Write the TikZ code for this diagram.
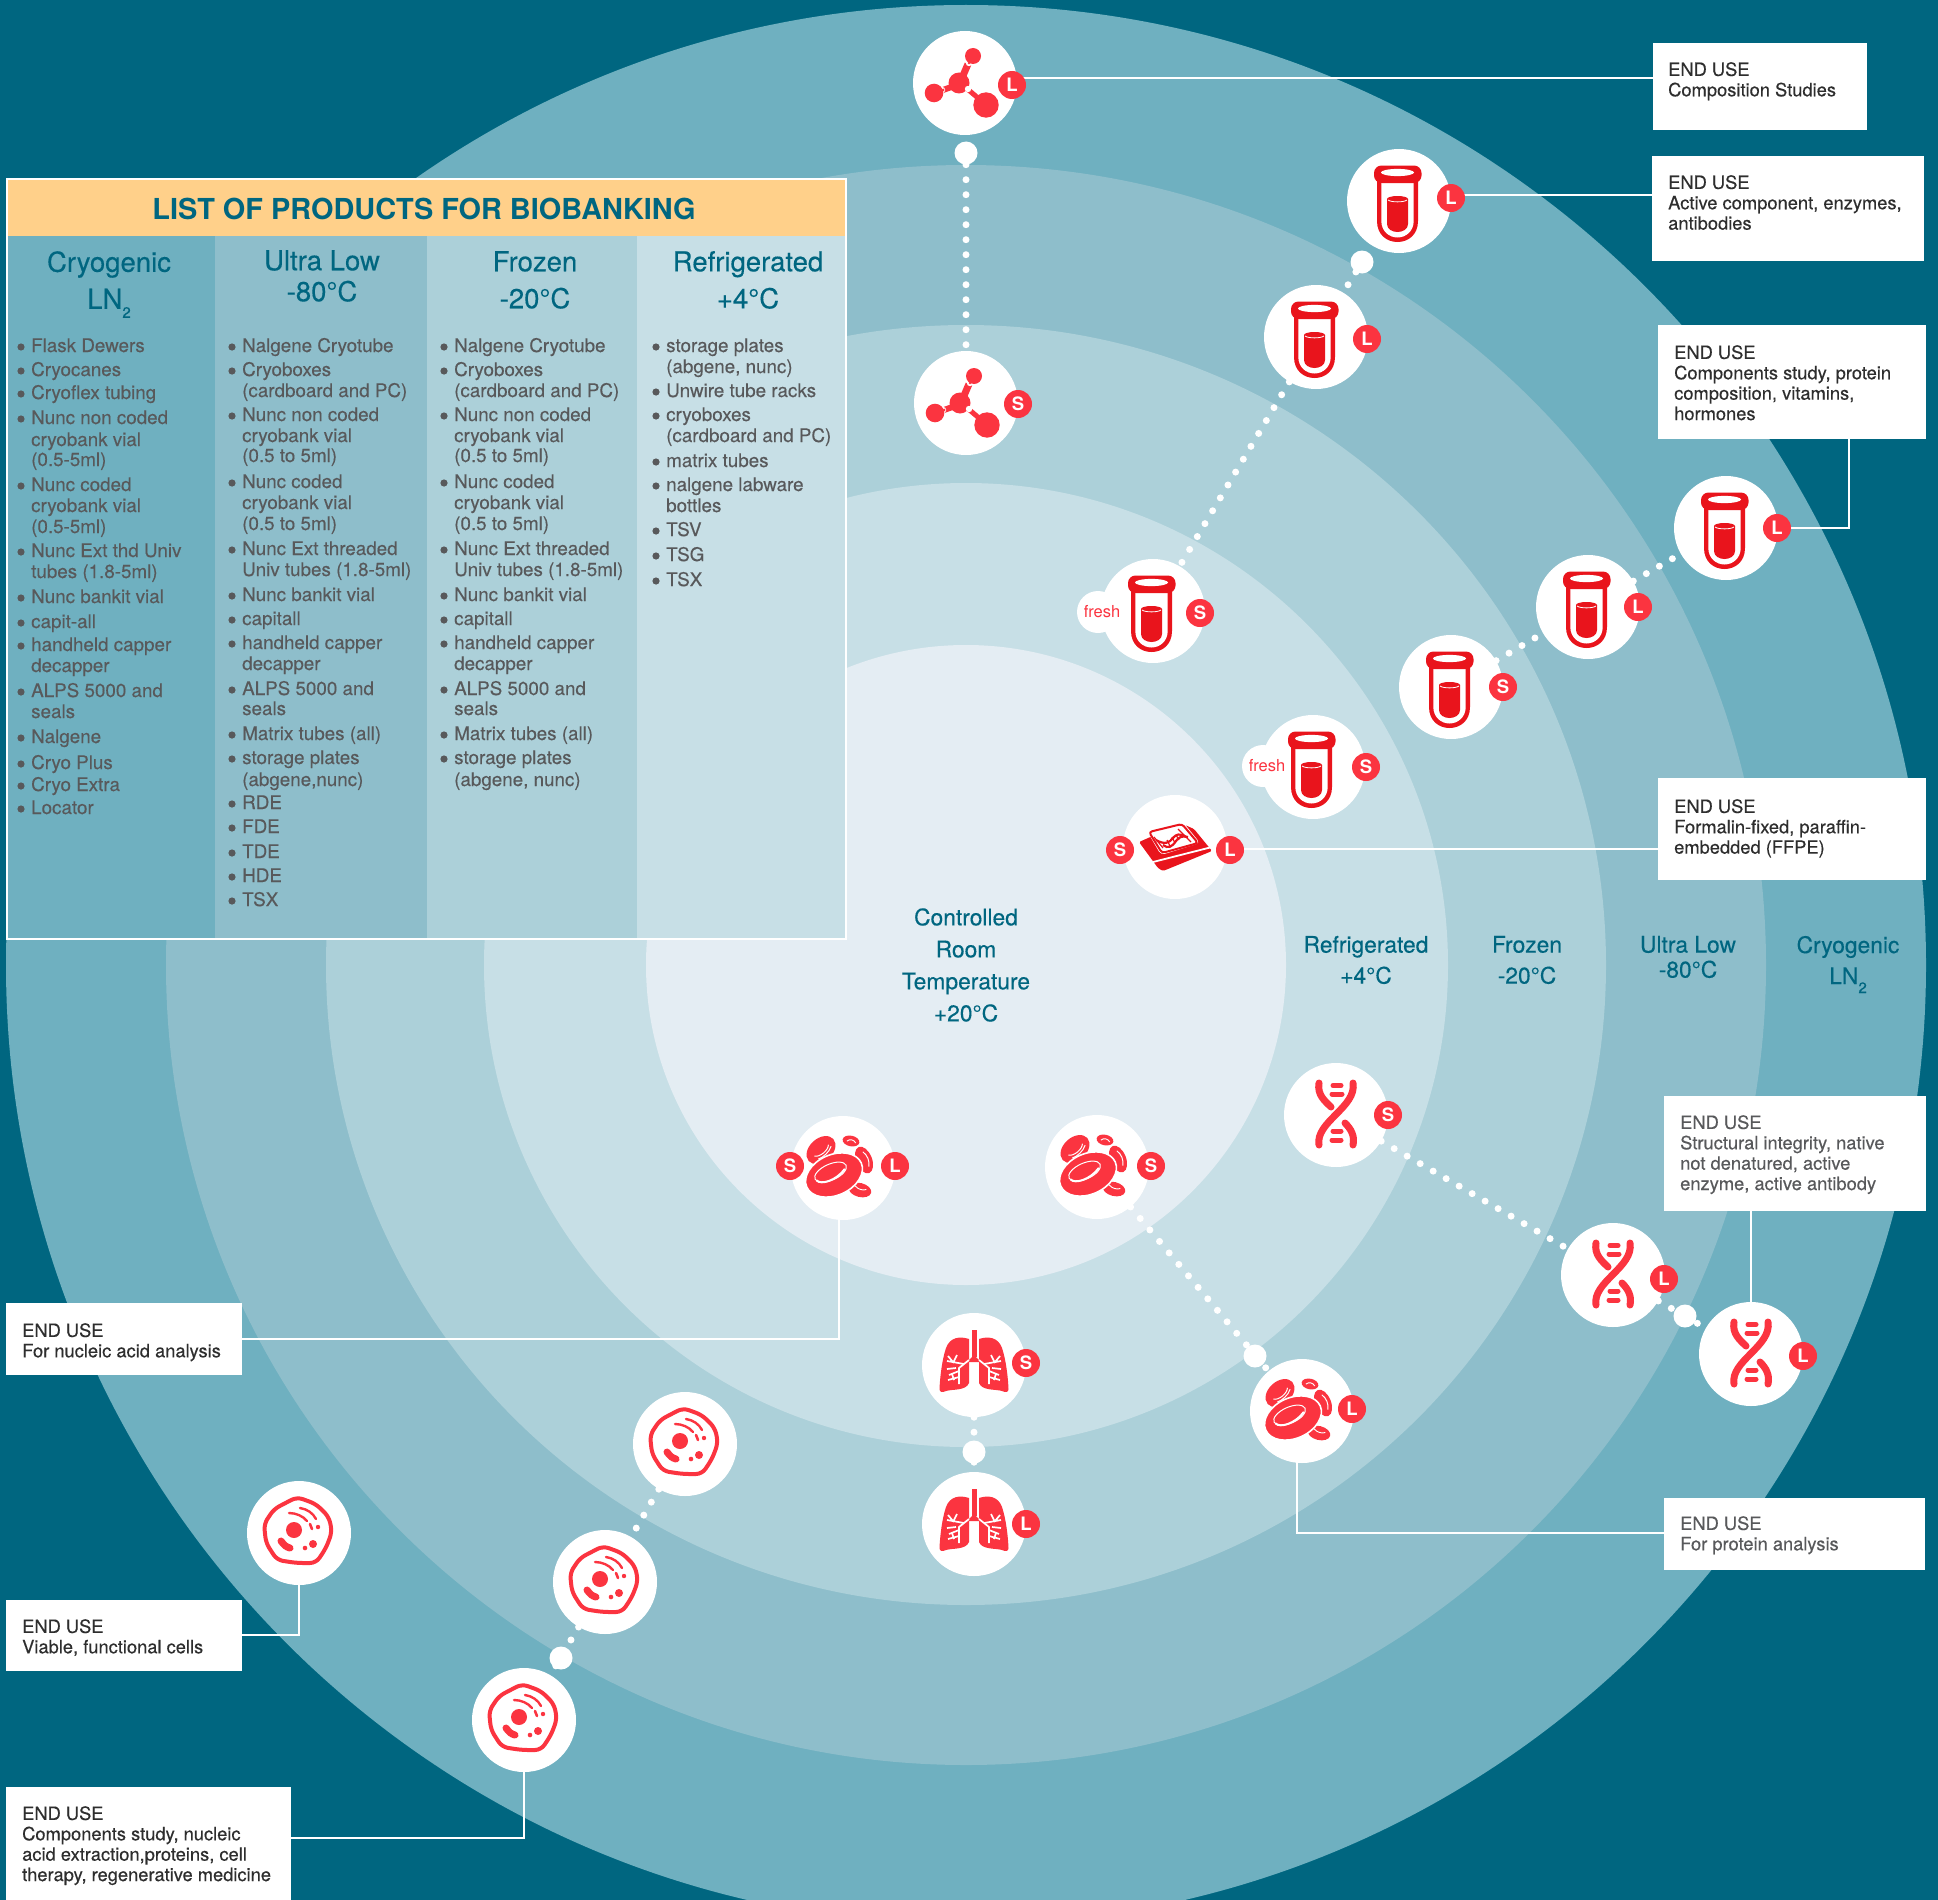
\documentclass[tikz,border=0pt]{standalone}
\usepackage{fontspec}
\setmainfont{TeX Gyre Heros}
\newfontfamily\medf[FakeBold=0.3]{TeX Gyre Heros}
\pgfdeclarelayer{back}
\pgfdeclarelayer{lines}
\pgfsetlayers{back,lines,main}
\definecolor{bgteal}{HTML}{006680}
\definecolor{ringa}{HTML}{6FB0C0}
\definecolor{ringb}{HTML}{8EBECB}
\definecolor{ringc}{HTML}{ACD0D9}
\definecolor{ringd}{HTML}{C7DFE6}
\definecolor{ringe}{HTML}{E4EDF3}
\definecolor{hdr}{HTML}{FFD08A}
\definecolor{hot}{HTML}{FB3440}
\definecolor{deep}{HTML}{E9141C}
\definecolor{txt}{HTML}{58595B}
\definecolor{inktxt}{HTML}{2E2E2E}
\newcommand{\fs}[2]{\fontsize{#1pt}{#2pt}\selectfont}
\newcommand{\lowtwo}{\raisebox{-9pt}[0pt][0pt]{\fs{15}{15}2}}
\tikzset{
  x=1pt,y=-1pt,
  disc/.style={circle,fill=white,draw=none,minimum size=104pt,inner sep=0pt},
  blob/.style={circle,fill=white,draw=none,minimum size=42pt,inner sep=0pt},
  fresht/.style={text=hot,font=\fs{16.5}{17},inner sep=0pt},
  knob/.style={circle,fill=white,draw=none,minimum size=23pt,inner sep=0pt},
  badge/.style={circle,fill=hot,draw=none,minimum size=28pt,inner sep=0pt,text=white,font=\bfseries\fs{18.5}{18}},
  conn/.style={draw=white,line width=2.6pt},
  pearls/.style={draw=white,line width=7pt,line cap=round,dash pattern=on 0pt off 15pt},
  boxw/.style={rectangle,fill=white,draw=none,inner sep=0pt,anchor=north west},
  boxt/.style={anchor=north west,inner sep=0pt,align=left,font=\medf\fs{18.3}{20.4},text=#1},
  boxt/.default=inktxt,
  ltext/.style={anchor=west,inner sep=0pt,text=txt,font=\medf\fs{18.8}{20},text height=14pt,text depth=4pt},
  bandl/.style={text=bgteal,font=\medf\fs{22.8}{31},align=center,inner sep=0pt,anchor=center},
  tabh/.style={bandl,font=\medf\fs{27.5}{31}},
  tubeicon/.pic={
    \fill[deep] (-22,-20) -- (-22,20) .. controls (-22,34) and (-12,41) .. (-1.5,41) .. controls (9,41) and (19,34) .. (19,20) -- (19,-20) -- cycle;
    \fill[white] (-17.7,-20) -- (-17.7,20) .. controls (-17.7,30) and (-10,36.5) .. (-1.5,36.5) .. controls (7,36.5) and (14.7,30) .. (14.7,20) -- (14.7,-20) -- cycle;
    \fill[deep,rounded corners=7.5pt] (-25,-35.5) rectangle (22.5,-18);
    \fill[white] (-1.5,-28.5) ellipse (16.5 and 3.6);
    \fill[deep] (-12,-2) -- (-12,23) .. controls (-12,28) and (-7,31) .. (-1.5,31) .. controls (4,31) and (9,28) .. (9,23) -- (9,-2) -- cycle;
    \fill[deep] (-1.5,-2) ellipse (10.5 and 3);
    \draw[white,line width=0.8pt] (-11,-1) .. controls (-8,1.5) and (5,1.5) .. (8,-1);
  },
  molecule/.pic={
    \fill[hot] (-6,0) circle (10.5);
    \draw[hot,line width=7pt] (-3,-5) -- (3,-19);
    \draw[hot,line width=6pt] (-8,2) -- (-22,7);
    \draw[hot,line width=5pt] (0,4) -- (13,15);
    \fill[white] (4,-20) circle (3.2);
    \fill[white] (-23,7) circle (3.2);
    \fill[white] (3,6) circle (3.2);
    \fill[hot] (4,-20) circle (1.3);
    \fill[hot] (-22,7) circle (1.5);
    \fill[hot] (8,-27) circle (8);
    \fill[hot] (-31,10) circle (9.3);
    \fill[hot] (21,22) circle (12.7);
  },
  ffpe/.pic={
    \fill[deep,rounded corners=1.5pt] (-36,-5) -- (-17,21) -- (-12,24) -- (37,4) -- (19,-18) -- (10,-22) -- (-20,-12) -- cycle;
    \draw[white,line width=1.8pt] (-22,15) -- (37,0);
    \fill[white,rounded corners=4pt] (-28,-16) -- (8,-25) -- (25,-4) -- (-14,8) -- cycle;
    \draw[deep,line width=2pt,rounded corners=3pt] (-26,-15) -- (7,-23) -- (23,-4) -- (-13,6) -- cycle;
    \draw[deep,line width=1.2pt] (-21,-10) -- (-12,1);
    \draw[deep,line width=1.2pt] (3,-18) -- (16,-5);
    \draw[deep,line width=2.2pt] (-19,-7) .. controls (-10,-2) and (-6,-4) .. (-2,-9) .. controls (1,-13) and (5,-14) .. (11,-10);
    \draw[deep,line width=2.2pt] (-12,-2) .. controls (-7,2) and (-3,0) .. (1,-6) .. controls (3,-9) and (7,-12) .. (13,-10);
    \draw[deep,line width=1.2pt] (-8,-7) -- (-5,-1) (-3,-10) -- (0,-4) (1,-12) -- (4,-7);
  },
  bloodicon/.pic={
    \begin{scope}[shift={(-22,-18)},rotate=42]
      \fill[hot] (0,0) ellipse (16.5 and 11.5);
      \draw[white,line width=1pt] (-9,0) .. controls (-6,5) and (6,5) .. (9,1);
      \draw[white,line width=1pt] (-8,5) .. controls (-3,7) and (5,7) .. (10,4);
    \end{scope}
    \begin{scope}[shift={(8,-27)},rotate=-12]
      \fill[hot] (0,0) ellipse (8.5 and 5.3);
      \draw[white,line width=0.9pt] (-4,1) .. controls (-2,-2) and (3,-2) .. (5,1);
    \end{scope}
    \begin{scope}[shift={(21,-8)},rotate=22]
      \fill[hot] (0,0) ellipse (8 and 14);
      \draw[white,line width=1pt] (2,-8) .. controls (5,-3) and (5,3) .. (2,8);
    \end{scope}
    \begin{scope}[shift={(17,22)},rotate=-14]
      \fill[hot] (0,0) ellipse (11.5 and 7);
      \draw[white,line width=0.9pt] (-6,-3) .. controls (-2,0) and (3,0) .. (6,-2);
    \end{scope}
    \begin{scope}[shift={(-9,7)},rotate=24]
      \filldraw[fill=hot,draw=white,line width=1.6pt] (0,0) ellipse (29.8 and 20.3);
      \draw[white,line width=1pt] (-2,-4) ellipse (17 and 8);
      \draw[white,line width=2pt,line cap=round] (-18,-2) .. controls (-16,4) and (0,6) .. (12,-1);
    \end{scope}
  },
  cellicon/.pic={
    \draw[hot,line width=4pt,rounded corners=6pt,line join=round] (-2,-36) -- (17,-29) -- (30,-16) -- (33,-1) -- (27,15) -- (17,30) -- (-2,30) -- (-22,27) -- (-33,10) -- (-35,-9) -- (-25,-24) -- cycle;
    \fill[hot] (-5,-3) circle (8);
    \draw[hot,line width=7pt,line cap=round] (-18,8) .. controls (-15,12) and (-13,14) .. (-9,15);
    \fill[hot] (14,11) circle (4);
    \fill[hot] (6,15) circle (2.3);
    \fill[hot] (19,-6) circle (2.2);
    \draw[hot,line width=2.6pt,line cap=round] (11,-9) -- (13,-4);
    \draw[hot,line width=2.4pt,line cap=round] (-10,-20) .. controls (-3,-20) and (4,-17) .. (8,-12);
    \draw[hot,line width=2.4pt,line cap=round] (1,-25) .. controls (8,-24) and (14,-20) .. (17,-14);
  },
  dnaicon/.pic={
    \draw[hot,line width=7pt,line cap=round] (17,-32) .. controls (21,-8) and (-21,7) .. (-17,30);
    \draw[hot,line width=7pt,line cap=round] (-17,-32) .. controls (-19,-20) and (-11,-14) .. (-5,-8);
    \draw[hot,line width=7pt,line cap=round] (9,8) .. controls (15,14) and (19,21) .. (17,30);
    \draw[hot,line width=5pt,line cap=round] (-3,-29.5) -- (5,-29.5) (-4,-21) -- (6,-21) (-3,16) -- (5,16) (-4,25) -- (5,25);
  },
  lungicon/.pic={
    \fill[hot] (-2.5,-35) rectangle (2.5,-8);
    \fill[hot] (0,-10) -- (7,-3) -- (-7,-3) -- cycle;
    \foreach \s in {1,-1}{
      \begin{scope}[xscale=\s]
        \fill[hot] (5,-26) .. controls (14,-29) and (24,-28) .. (28,-17) .. controls (32,-5) and (34,12) .. (34.5,24) .. controls (34.5,27) and (32,28) .. (28,26) .. controls (22,24) and (8,26) .. (5,18) -- (5,-26) -- cycle;
        \draw[white,line width=1.7pt] (5,-5) -- (15,3) -- (15,19);
        \draw[white,line width=1.7pt] (10,-1) -- (27,-4) (17,-10) -- (21,-2) (21,-3) -- (26,-9) (18,3) -- (27,4);
        \draw[white,line width=1.7pt] (15,12) -- (26,15) (15,6) -- (25,10) (22,9) -- (20,15);
      \end{scope}
    }
  }
}
\newcounter{liitem}
\newcommand{\itm}[3]{\stepcounter{liitem}\node[ltext] (li\theliitem) at (#1,#2+1) {#3};\fill[txt] (#1-10,#2+1) circle (3.6);}
\newcommand{\cnt}[3]{\stepcounter{liitem}\node[ltext] (li\theliitem) at (#1,#2+1) {#3};}
\begin{document}
\begin{tikzpicture}
\useasboundingbox (0,0) rectangle (1938,1900);
\begin{pgfonlayer}{back}
\fill[bgteal] (0,0) rectangle (1938,1900);
\begin{scope}
\clip (0,0) rectangle (1938,1900);
\fill[ringa] (966,965) circle (960);
\fill[ringb] (966,965) circle (800);
\fill[ringc] (966,965) circle (640);
\fill[ringd] (966,965) circle (482);
\fill[ringe] (966,965) circle (320);
\end{scope}
\end{pgfonlayer}

% table
\fill[white] (6,178) rectangle (847,940);
\fill[hdr] (8,180) rectangle (845,236);
\fill[ringa] (8,236) rectangle (215,938);
\fill[ringb] (215,236) rectangle (427,938);
\fill[ringc] (427,236) rectangle (637,938);
\fill[ringd] (637,236) rectangle (845,938);
\node[text=bgteal,font=\bfseries\fs{28.9}{30},inner sep=0pt] (ttl) at (424,209) {LIST OF PRODUCTS FOR BIOBANKING};
\node[tabh] (h1) at (109,280) {Cryogenic\\[6pt]LN\lowtwo};
\node[tabh] (h2) at (322,276) {Ultra Low\\-80°C};
\node[tabh] (h3) at (535,280) {Frozen\\[6pt]-20°C};
\node[tabh] (h4) at (748,280) {Refrigerated\\[6pt]+4°C};

\itm{31}{346}{Flask Dewers}
\itm{31}{370}{Cryocanes}
\itm{31}{393}{Cryoflex tubing}
\itm{31}{418}{Nunc non coded}
\cnt{31}{440}{cryobank vial}
\cnt{31}{460}{(0.5-5ml)}
\itm{31}{485}{Nunc coded}
\cnt{31}{506}{cryobank vial}
\cnt{31}{527}{(0.5-5ml)}
\itm{31}{551}{Nunc Ext thd Univ}
\cnt{31}{572}{tubes (1.8-5ml)}
\itm{31}{597}{Nunc bankit vial}
\itm{31}{622}{capit-all}
\itm{31}{645}{handheld capper}
\cnt{31}{666}{decapper}
\itm{31}{691}{ALPS 5000 and}
\cnt{31}{712}{seals}
\itm{31}{737}{Nalgene}
\itm{31}{763}{Cryo Plus}
\itm{31}{785}{Cryo Extra}
\itm{31}{808}{Locator}

\itm{242}{346}{Nalgene Cryotube}
\itm{242}{370}{Cryoboxes}
\cnt{242}{391}{(cardboard and PC)}
\itm{242}{415}{Nunc non coded}
\cnt{242}{436}{cryobank vial}
\cnt{242}{456}{(0.5 to 5ml)}
\itm{242}{482}{Nunc coded}
\cnt{242}{503}{cryobank vial}
\cnt{242}{524}{(0.5 to 5ml)}
\itm{242}{549}{Nunc Ext threaded}
\cnt{242}{570}{Univ tubes (1.8-5ml)}
\itm{242}{595}{Nunc bankit vial}
\itm{242}{619}{capitall}
\itm{242}{643}{handheld capper}
\cnt{242}{664}{decapper}
\itm{242}{689}{ALPS 5000 and}
\cnt{242}{709}{seals}
\itm{242}{734}{Matrix tubes (all)}
\itm{242}{758}{storage plates}
\cnt{242}{780}{(abgene,nunc)}
\itm{242}{803}{RDE}
\itm{242}{827}{FDE}
\itm{242}{852}{TDE}
\itm{242}{876}{HDE}
\itm{242}{900}{TSX}

\itm{454}{346}{Nalgene Cryotube}
\itm{454}{370}{Cryoboxes}
\cnt{454}{391}{(cardboard and PC)}
\itm{454}{415}{Nunc non coded}
\cnt{454}{436}{cryobank vial}
\cnt{454}{456}{(0.5 to 5ml)}
\itm{454}{482}{Nunc coded}
\cnt{454}{503}{cryobank vial}
\cnt{454}{524}{(0.5 to 5ml)}
\itm{454}{549}{Nunc Ext threaded}
\cnt{454}{570}{Univ tubes (1.8-5ml)}
\itm{454}{595}{Nunc bankit vial}
\itm{454}{619}{capitall}
\itm{454}{643}{handheld capper}
\cnt{454}{664}{decapper}
\itm{454}{689}{ALPS 5000 and}
\cnt{454}{709}{seals}
\itm{454}{734}{Matrix tubes (all)}
\itm{454}{758}{storage plates}
\cnt{454}{780}{(abgene, nunc)}

\itm{666}{346}{storage plates}
\cnt{666}{367}{(abgene, nunc)}
\itm{666}{391}{Unwire tube racks}
\itm{666}{415}{cryoboxes}
\cnt{666}{436}{(cardboard and PC)}
\itm{666}{461}{matrix tubes}
\itm{666}{485}{nalgene labware}
\cnt{666}{506}{bottles}
\itm{666}{530}{TSV}
\itm{666}{555}{TSG}
\itm{666}{580}{TSX}

% band labels
\node[bandl,font=\medf\fs{22.8}{32}] (b0) at (966,965) {Controlled\\Room\\Temperature\\+20°C};
\node[bandl] (b1) at (1366,960) {Refrigerated\\+4°C};
\node[bandl] (b2) at (1527,960) {Frozen\\-20°C};
\node[bandl,font=\medf\fs{22.8}{25}] (b3) at (1688,957) {Ultra Low\\-80°C};
\node[bandl] (b4) at (1848,960) {Cryogenic\\LN\lowtwo};

% discs and icons
\node[knob] (mk) at (966,153) {};
\node[disc] (m1) at (965,83) {};
\node[disc] (m2) at (966,403) {};
\pic at (m1) {molecule};
\pic at (m2) {molecule};
\node[badge] (m1b) at (1012,85) {L};
\node[badge] (m2b) at (1018,404) {S};

\node[knob] (tk) at (1362,262) {};
\node[disc] (t1) at (1399,201) {};
\node[disc] (t2) at (1316,337) {};
\node[blob] (t3f) at (1098,612) {};
\node[disc] (t3) at (1153,611) {};
\node[fresht] (t3l) at (1102,612) {fresh};
\pic at (t1) {tubeicon};
\pic at (t2) {tubeicon};
\pic at (t3) {tubeicon};
\node[badge] (t1b) at (1451,198) {L};
\node[badge] (t2b) at (1367,339) {L};
\node[badge] (t3b) at (1200,613) {S};

\node[disc] (u1) at (1726,528) {};
\node[disc] (u2) at (1588,607) {};
\node[disc] (u3) at (1451,687) {};
\pic at (u1) {tubeicon};
\pic at (u2) {tubeicon};
\pic at (u3) {tubeicon};
\node[badge] (u1b) at (1777,528) {L};
\node[badge] (u2b) at (1638,607) {L};
\node[badge] (u3b) at (1503,687) {S};

\node[blob] (ff) at (1263,766) {};
\node[disc] (f1) at (1313,767) {};
\node[fresht] (ffl) at (1267,766) {fresh};
\pic at (f1) {tubeicon};
\node[badge] (f1b) at (1366,767) {S};

\node[disc] (s1) at (1175,847) {};
\pic at (s1) {ffpe};
\node[badge] (s1a) at (1120,850) {S};
\node[badge] (s1b) at (1230,850) {L};

\node[disc] (d1) at (1336,1115) {};
\node[disc] (d2) at (1613,1275) {};
\node[disc] (d3) at (1751,1354) {};
\node[knob] (dk) at (1685,1316) {};
\pic at (d1) {dnaicon};
\pic at (d2) {dnaicon};
\pic at (d3) {dnaicon};
\node[badge] (d1b) at (1388,1115) {S};
\node[badge] (d2b) at (1664,1279) {L};
\node[badge] (d3b) at (1803,1356) {L};

\node[disc] (r1) at (843,1168) {};
\node[disc] (r2) at (1097,1167) {};
\node[disc] (r3) at (1302,1411) {};
\node[knob] (rk) at (1255,1356) {};
\pic at (r1) {bloodicon};
\pic at (r2) {bloodicon};
\pic at (r3) {bloodicon};
\node[badge] (r1a) at (790,1166) {S};
\node[badge] (r1b) at (895,1166) {L};
\node[badge] (r2b) at (1151,1166) {S};
\node[badge] (r3b) at (1352,1409) {L};

\node[disc] (g1) at (974,1365) {};
\node[disc] (g2) at (974,1524) {};
\node[knob] (gk) at (974,1452) {};
\pic at (g1) {lungicon};
\pic at (g2) {lungicon};
\node[badge] (g1b) at (1026,1363) {S};
\node[badge] (g2b) at (1026,1524) {L};

\node[disc] (c1) at (685,1444) {};
\node[disc] (c2) at (605,1582) {};
\node[disc] (c3) at (524,1720) {};
\node[disc] (c4) at (299,1533) {};
\node[knob] (ck) at (561,1658) {};
\pic at (c1) {cellicon};
\pic at (c2) {cellicon};
\pic at (c3) {cellicon};
\pic at (c4) {cellicon};

% end-use boxes
\node[boxw,minimum width=214pt,minimum height=87pt] (e1) at (1653,43) {};
\node[boxt] (e1t) at (1668,62) {END USE\\Composition Studies};
\node[boxw,minimum width=272pt,minimum height=105pt] (e2) at (1652,156) {};
\node[boxt] (e2t) at (1668,175) {END USE\\Active component, enzymes,\\antibodies};
\node[boxw,minimum width=268pt,minimum height=114pt] (e3) at (1658,325) {};
\node[boxt] (e3t) at (1674,345) {END USE\\Components study, protein\\composition, vitamins,\\hormones};
\node[boxw,minimum width=268pt,minimum height=102pt] (e4) at (1658,778) {};
\node[boxt] (e4t) at (1674,799) {END USE\\Formalin-fixed, paraffin-\\embedded (FFPE)};
\node[boxw,minimum width=262pt,minimum height=115pt] (e5) at (1664,1096) {};
\node[boxt=txt] (e5t) at (1680,1115) {END USE\\Structural integrity, native\\not denatured, active\\enzyme, active antibody};
\node[boxw,minimum width=261pt,minimum height=72pt] (e6) at (1664,1498) {};
\node[boxt=txt] (e6t) at (1680,1516) {END USE\\For protein analysis};
\node[boxw,minimum width=236pt,minimum height=72pt] (e7) at (6,1303) {};
\node[boxt] (e7t) at (22,1323) {END USE\\For nucleic acid analysis};
\node[boxw,minimum width=236pt,minimum height=71pt] (e8) at (6,1600) {};
\node[boxt] (e8t) at (22,1619) {END USE\\Viable, functional cells};
\node[boxw,minimum width=285pt,minimum height=113pt] (e9) at (6,1787) {};
\node[boxt] (e9t) at (22,1806) {END USE\\Components study, nucleic\\acid extraction,proteins, cell\\therapy, regenerative medicine};

% connectors
\begin{pgfonlayer}{lines}
\draw[pearls] (mk) -- (m2);
\draw[pearls] (tk) -- (t2);
\draw[pearls] (t2) -- (t3);
\draw[pearls] (u3) -- (u2);
\draw[pearls] (u2) -- (u1);
\draw[pearls] (d1) -- (d2);
\draw[pearls] (d2) -- (d3);
\draw[pearls] (r2) -- (r3);
\draw[pearls] (g1) -- (g2);
\draw[pearls] (c1) -- (c2);
\draw[pearls] (c2) -- (c3);
\coordinate (e1p) at (e1.west |- 0,78);
\draw[conn] (m1b) -- (m1b |- e1p) -- (e1p);
\coordinate (e2p) at (e2.west |- 0,195);
\draw[conn] (t1b) -- (t1b |- e2p) -- (e2p);
\coordinate (e3p) at (1849,439);
\draw[conn] (u1b) -- (e3p |- u1b) -- (e3p);
\coordinate (e4p) at (e4.west |- 0,849);
\draw[conn] (s1b) -- (s1b |- e4p) -- (e4p);
\coordinate (e5p) at (1751,1210);
\draw[conn] (d3) -- (e5p);
\coordinate (e6p) at (e6.west |- 0,1533);
\coordinate (r3p) at (1297,1411);
\draw[conn] (r3p) -- (r3p |- e6p) -- (e6p);
\coordinate (e7p) at (e7.east |- 0,1339);
\coordinate (r1p) at (839,1168);
\draw[conn] (r1p) -- (r1p |- e7p) -- (e7p);
\coordinate (e8p) at (e8.east |- 0,1635);
\coordinate (c4p) at (299,1533);
\draw[conn] (c4p) -- (c4p |- e8p) -- (e8p);
\coordinate (e9p) at (e9.east |- 0,1838);
\coordinate (c3p) at (524,1720);
\draw[conn] (c3p) -- (c3p |- e9p) -- (e9p);
\end{pgfonlayer}
\end{tikzpicture}
\end{document}
